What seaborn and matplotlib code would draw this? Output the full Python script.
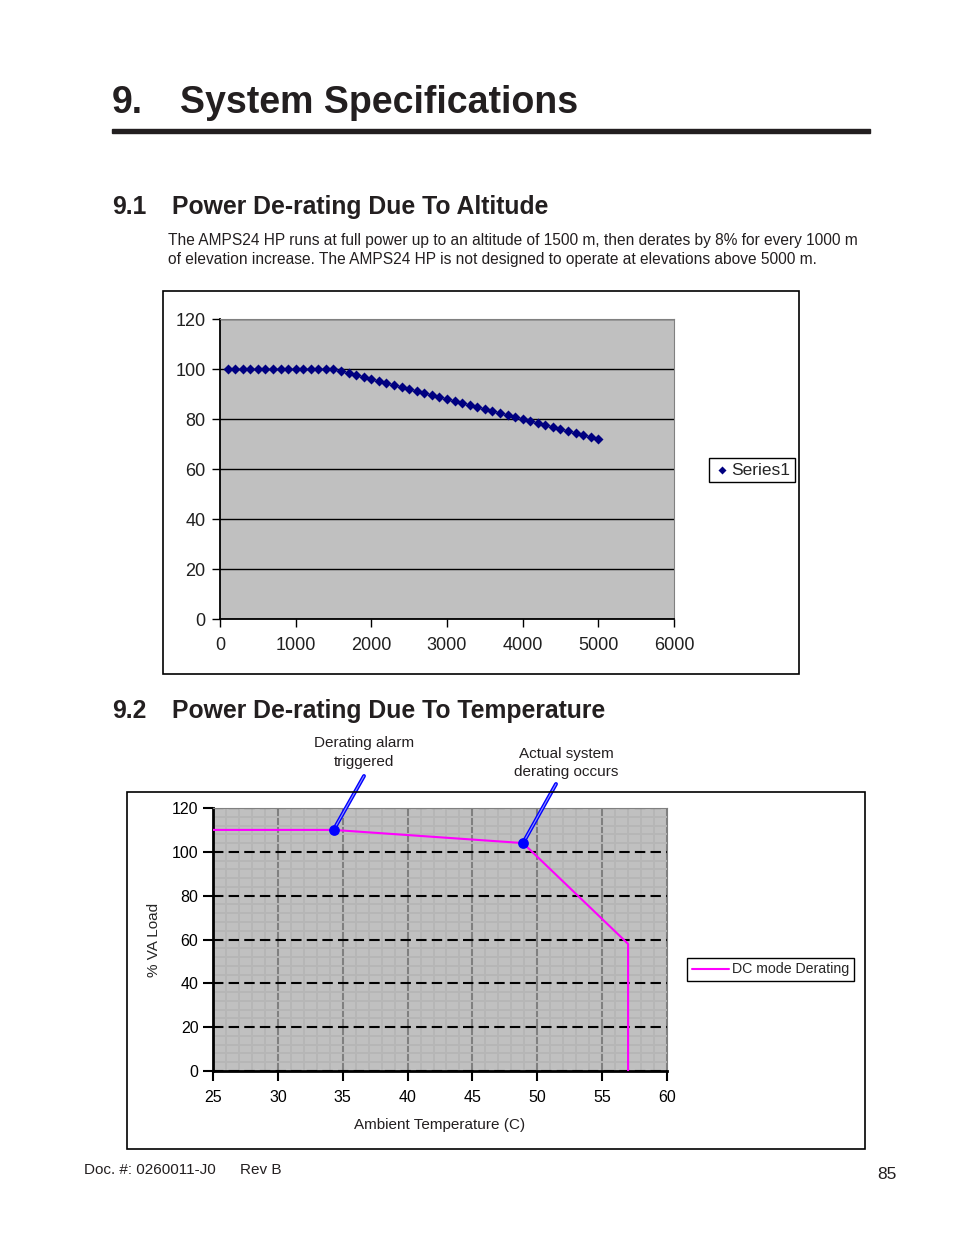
import matplotlib
matplotlib.use("Agg")
import matplotlib.pyplot as plt
from matplotlib.patches import Rectangle
from matplotlib.ticker import MultipleLocator
import pandas as pd
import seaborn as sns

# altitude derating (m, % load)
altitude_m = [100, 200, 300, 400, 500, 600, 700, 800, 900, 1000,
              1100, 1200, 1300, 1400, 1500, 1600, 1700, 1800, 1900, 2000,
              2100, 2200, 2300, 2400, 2500, 2600, 2700, 2800, 2900, 3000,
              3100, 3200, 3300, 3400, 3500, 3600, 3700, 3800, 3900, 4000,
              4100, 4200, 4300, 4400, 4500, 4600, 4700, 4800, 4900, 5000]
altitude_load = [100, 100, 100, 100, 100, 100, 100, 100, 100, 100,
                 100, 100, 100, 100, 100, 99.2, 98.4, 97.6, 96.8, 96,
                 95.2, 94.4, 93.6, 92.8, 92, 91.2, 90.4, 89.6, 88.8, 88,
                 87.2, 86.4, 85.6, 84.8, 84, 83.2, 82.4, 81.6, 80.8, 80,
                 79.2, 78.4, 77.6, 76.8, 76, 75.2, 74.4, 73.6, 72.8, 72]

# temperature derating (C, % VA load)
temp_c = [25, 34.3, 48.9, 57, 57]
temp_load = [110, 110, 104, 58, 0]
marker_temp = [34.3, 48.9]
marker_load = [110, 104]

alt_ticks = [0, 1000, 2000, 3000, 4000, 5000, 6000]
load_ticks = [0, 20, 40, 60, 80, 100, 120]
temp_ticks = [25, 30, 35, 40, 45, 50, 55, 60]

sns.set_style("white")
plt.rcParams["font.family"] = ["Liberation Sans", "DejaVu Sans"]

W, H = 954, 1235
fig = plt.figure(figsize=(W / 100, H / 100), dpi=100)


def fbox(x0, y0, x1, y1):
    return [x0 / W, 1 - y1 / H, (x1 - x0) / W, (y1 - y0) / H]


def ftext(x, y, s, **kw):
    fig.text(x / W, 1 - y / H, s, va="baseline", color="#231f20", **kw)


def frame(x0, y0, x1, y1, lw=1.2):
    fig.patches.append(Rectangle((x0 / W, 1 - y1 / H), (x1 - x0) / W, (y1 - y0) / H,
                                 transform=fig.transFigure, fill=False,
                                 edgecolor="black", linewidth=lw))


# page text
ftext(112, 113, "9.", fontsize=27, fontweight="bold")
ftext(180, 113, "System Specifications", fontsize=27, fontweight="bold")
fig.patches.append(Rectangle((112 / W, 1 - 133 / H), (870 - 112) / W, 4 / H,
                             transform=fig.transFigure, color="#231f20"))
ftext(112, 214, "9.1", fontsize=17.8, fontweight="bold")
ftext(172, 214, "Power De-rating Due To Altitude", fontsize=17.8, fontweight="bold")
ftext(168, 245, "The AMPS24 HP runs at full power up to an altitude of 1500 m, then derates by 8% for every 1000 m",
      fontsize=11.2)
ftext(168, 264, "of elevation increase. The AMPS24 HP is not designed to operate at elevations above 5000 m.",
      fontsize=11.2)
ftext(112, 718, "9.2", fontsize=17.8, fontweight="bold")
ftext(172, 718, "Power De-rating Due To Temperature", fontsize=17.8, fontweight="bold")
ftext(84, 1174, "Doc. #: 0260011-J0", fontsize=11)
ftext(240, 1174, "Rev B", fontsize=11)
ftext(897, 1179, "85", fontsize=12.5, ha="right")

# chart 1 - altitude
frame(163, 291, 799, 674)
ax1 = fig.add_axes(fbox(220, 319, 674, 619))
alt_df = pd.DataFrame({"Altitude": altitude_m, "Load": altitude_load})
sns.scatterplot(data=alt_df, x="Altitude", y="Load", ax=ax1, marker="D", s=26,
                color="#000080", edgecolor="#000080", linewidth=0, label="Series1")
ax1.set_facecolor("#c0c0c0")
ax1.set_xlim(0, 6000)
ax1.set_ylim(0, 120)
ax1.set_xticks(alt_ticks)
ax1.set_yticks(load_ticks)
ax1.set_xlabel("")
ax1.set_ylabel("")
ax1.yaxis.grid(True, color="black", linewidth=1)
ax1.xaxis.grid(False)
ax1.set_axisbelow(True)
for side in ["top", "right"]:
    ax1.spines[side].set_color("#808080")
for side in ["left", "bottom"]:
    ax1.spines[side].set_color("black")
    ax1.spines[side].set_linewidth(1.3)
ax1.tick_params(axis="both", direction="out", length=6, width=1, color="black",
                labelsize=13, labelcolor="#202020", left=True, bottom=True)
ax1.tick_params(axis="y", pad=4.5)
ax1.tick_params(axis="x", pad=7)
ax1.legend(loc="center", bbox_to_anchor=(752 / W, 1 - 470 / H), bbox_transform=fig.transFigure,
           frameon=True, fancybox=False, edgecolor="black", framealpha=1, fontsize=12.5,
           handletextpad=0.1, handlelength=0.9, borderpad=0.25, borderaxespad=0, markerscale=0.8)

# chart 2 - temperature
frame(127, 792, 865, 1149)
ax2 = fig.add_axes(fbox(213, 808, 667, 1071))
temp_df = pd.DataFrame({"Temp": temp_c, "Load": temp_load})
sns.lineplot(data=temp_df, x="Temp", y="Load", ax=ax2, sort=False, estimator=None,
             color="#ff00ff", linewidth=1.5, label="DC mode Derating", zorder=3)
sns.scatterplot(x=marker_temp, y=marker_load, ax=ax2, color="#0000ff", s=60,
                linewidth=0, zorder=4, legend=False)
ax2.set_facecolor("#c0c0c0")
ax2.set_xlim(25, 60)
ax2.set_ylim(0, 120)
ax2.set_xticks(temp_ticks)
ax2.set_yticks(load_ticks)
ax2.xaxis.set_minor_locator(MultipleLocator(1))
ax2.yaxis.set_minor_locator(MultipleLocator(4))
ax2.grid(True, which="minor", color="#b6b6b6", linewidth=1.4)
ax2.xaxis.grid(True, which="major", color="#808080", linewidth=1.5)
ax2.yaxis.grid(True, which="major", color="black", linewidth=1.5, linestyle=(0, (5, 2.5)))
ax2.set_axisbelow(True)
for side in ["top", "right"]:
    ax2.spines[side].set_color("#808080")
for side in ["left", "bottom"]:
    ax2.spines[side].set_color("black")
    ax2.spines[side].set_linewidth(2)
ax2.tick_params(axis="both", which="major", direction="out", length=7, width=1.5, color="black",
                labelsize=11.5, labelcolor="black", left=True, bottom=True)
ax2.tick_params(axis="both", which="minor", length=0)
ax2.tick_params(axis="x", pad=7)
ax2.set_xlabel("")
ax2.set_ylabel("")
ftext(440, 1129, "Ambient Temperature (C)", fontsize=11, ha="center")
fig.text(154 / W, 1 - 940 / H, "% VA Load", rotation=90, fontsize=11, ha="center", va="center")
ax2.legend(loc="center", bbox_to_anchor=(770.5 / W, 1 - 969.5 / H), bbox_transform=fig.transFigure,
           frameon=True, fancybox=False, edgecolor="black", framealpha=1, fontsize=10.2,
           handletextpad=0.2, handlelength=2.6, borderpad=0.35, borderaxespad=0)

# callouts
ftext(364, 747, "Derating alarm", fontsize=11, ha="center")
ftext(364, 766, "triggered", fontsize=11, ha="center")
ftext(566, 758, "Actual system", fontsize=11, ha="center")
ftext(566, 776, "derating occurs", fontsize=11, ha="center")
starts = [(364, 776), (556, 784)]
for (px, py), mx, my in zip(starts, marker_temp, marker_load):
    for col, lw in [("#0000ff", 2.8), ("#9090ff", 0.8)]:
        ax2.annotate("", xy=(mx, my), xycoords="data", xytext=(px, H - py),
                     textcoords="figure pixels",
                     arrowprops=dict(arrowstyle="-", color=col, lw=lw, shrinkA=0, shrinkB=0),
                     annotation_clip=False)

fig.savefig("out.png", dpi=100)
